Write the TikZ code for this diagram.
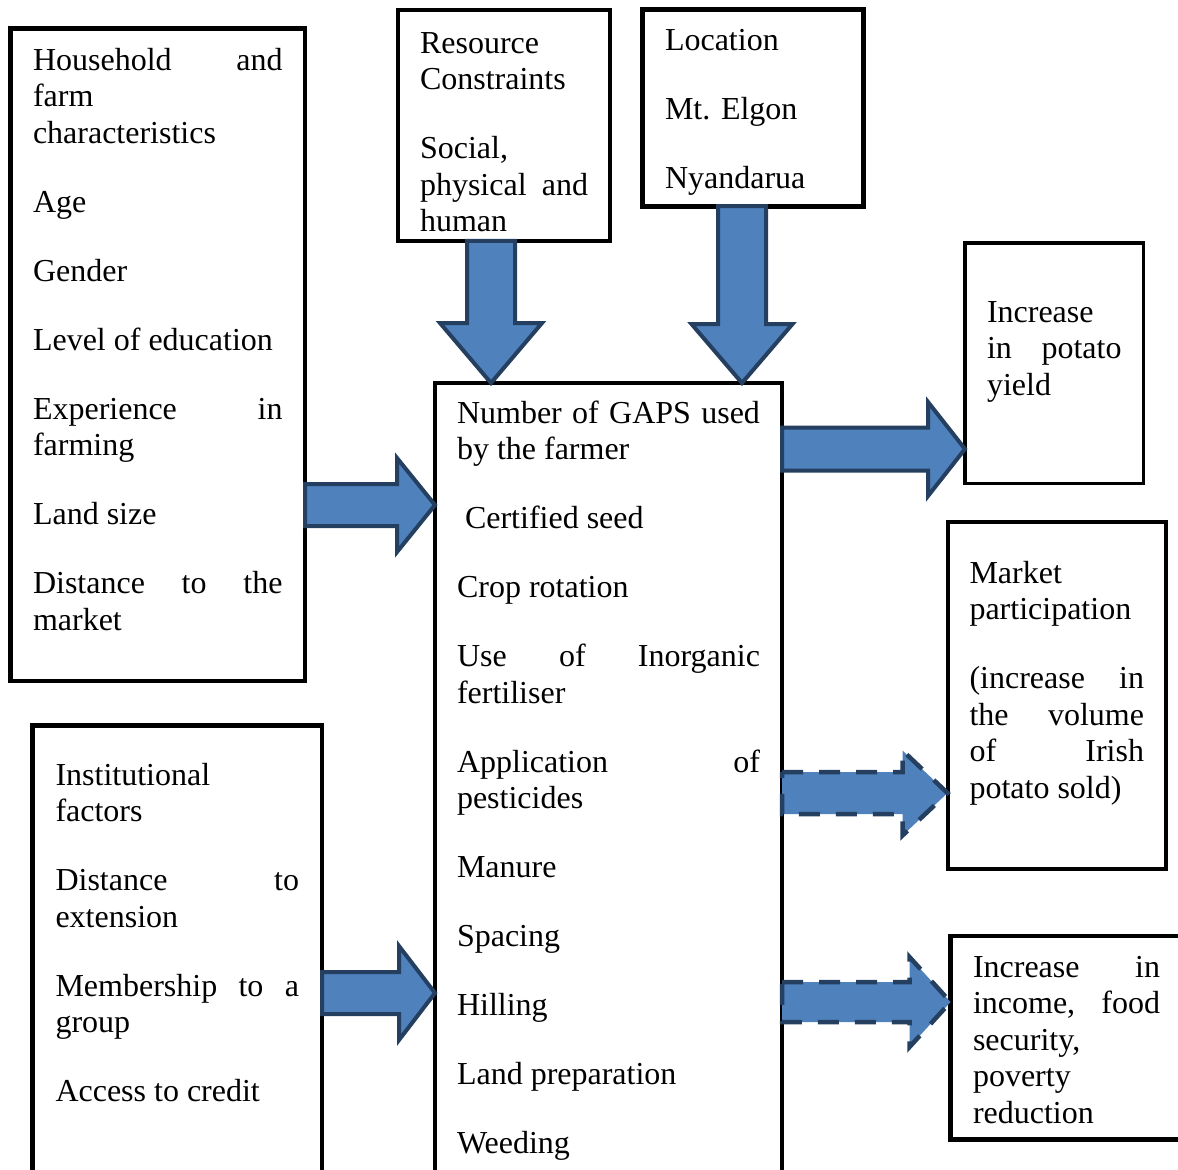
\documentclass[tikz,border=0pt]{standalone}
\usepackage{fontspec}
\setmainfont{Liberation Serif}
\usetikzlibrary{calc}
\definecolor{ArrowFill}{HTML}{4F81BD}
\definecolor{ArrowLine}{HTML}{243F60}

\newcommand{\skipline}{\\[16.25pt]}
\newcommand{\boxtext}[3]{\parbox[t][#2][t]{#1}{\strut #3}}
% block arrows: [style]{tail}{tip}{shaft half}{head half}{head length}
\newcommand{\harrow}[6][flow]{\draw[#1] let \p1=#2, \p2=#3 in
  (\x1,\y2+#4) -- (\x2-#6,\y2+#4) -- (\x2-#6,\y2+#5) -- (\x2,\y2) --
  (\x2-#6,\y2-#5) -- (\x2-#6,\y2-#4) -- (\x1,\y2-#4) -- cycle;}
\newcommand{\varrow}[6][flow]{\draw[#1] let \p1=#2, \p2=#3 in
  (\x2+#4,\y1) -- (\x2+#4,\y2+#6) -- (\x2+#5,\y2+#6) -- (\x2,\y2) --
  (\x2-#5,\y2+#6) -- (\x2-#4,\y2+#6) -- (\x2-#4,\y1) -- cycle;}

\begin{document}
\begin{tikzpicture}[x=0.5pt, y=-0.5pt,
  box/.style={draw, line width=2pt, inner sep=0pt, outer sep=0pt, anchor=north west,
    font=\fontsize{16}{18.25}\selectfont},
  flow/.style={fill=ArrowFill, draw=ArrowLine, line width=2pt},
  flowdash/.style={flow, line width=2.25pt, dash pattern=on 10.5pt off 8pt}
]
\useasboundingbox (0,0) rectangle (1178,1169);
\clip (0,0) rectangle (1178,1169);

% factor boxes
\node[box, line width=2.25pt, inner xsep=11.25pt, inner ysep=8pt] (hh) at (10.5,28.5)
  {\boxtext{124.75pt}{310.25pt}{Household \hfill and\\ farm\\ characteristics\skipline
   Age\skipline Gender\skipline Level of education\skipline
   Experience \hfill in\\ farming\skipline Land size\skipline
   Distance \hfill to \hfill the\\ market}};
\node[box, line width=2.25pt, inner xsep=11.5pt, inner ysep=17pt] (inst) at (32.5,725.5)
  {\boxtext{121.75pt}{203.25pt}{Institutional\\ factors\skipline
   Distance \hfill to\\ extension\skipline
   Membership \hfill to \hfill a\\ group\skipline Access to credit}};
\node[box, line width=1.75pt, inner xsep=11pt, inner ysep=8.725pt] (res) at (398,10)
  {\boxtext{84pt}{98pt}{Resource\\ Constraints\skipline
   Social,\\ physical \hfill and\\ human}};
\node[box, line width=2.5pt, inner xsep=11.5pt, inner ysep=7.5pt] (loc) at (642,9.5)
  {\boxtext{87.5pt}{83.25pt}{Location\skipline Mt. Elgon\skipline Nyandarua}};

% practices
\node[box, line width=1.75pt, inner xsep=11pt, inner ysep=7.225pt] (gaps) at (435,383)
  {\boxtext{151.5pt}{394pt}{Number \hfill of \hfill GAPS \hfill used\\ by the farmer\skipline
   \hspace*{4pt}Certified seed\skipline Crop rotation\skipline
   Use \hfill of \hfill Inorganic\\ fertiliser\skipline
   Application \hfill of\\ pesticides\skipline Manure\skipline Spacing\skipline
   Hilling\skipline Land preparation\skipline Weeding}};

% outcomes
\node[box, line width=1.75pt, inner xsep=11pt, inner ysep=26.725pt] (yield) at (965,243)
  {\boxtext{67.25pt}{66.8pt}{Increase\\ in \hfill potato\\ yield}};
\node[box, inner xsep=11pt, inner ysep=18pt] (market) at (947.5,521.5)
  {\boxtext{87.25pt}{137.75pt}{Market\\ participation\skipline
   (increase \hfill in\\ the \hfill volume\\ of \hfill Irish\\ potato sold)}};
\node[box, line width=2.25pt, inner xsep=11.25pt, inner ysep=7.725pt] (income) at (950.5,936)
  {\boxtext{93.5pt}{86.3pt}{Increase \hfill in\\ income, \hfill food\\ security,\\ poverty\\ reduction}};

% arrows
\harrow{(hh.east |- 0,505)}{(gaps.west |- 0,505)}{10.5pt}{23.5pt}{19pt}
\harrow{(inst.east |- 0,993)}{(gaps.west |- 0,993)}{10.5pt}{23.5pt}{18pt}
\varrow{(res.south -| 491,0)}{(gaps.north -| 491,0)}{12pt}{25.5pt}{30pt}
\varrow{(loc.south -| 742,0)}{(gaps.north -| 742,0)}{12pt}{25.25pt}{29.5pt}
\harrow{(gaps.east |- 0,449)}{(yield.west |- 0,449)}{10.75pt}{23.5pt}{18.5pt}
\harrow[flowdash]{(gaps.east |- 0,793)}{(market.west |- 0,793)}{10.5pt}{21.25pt}{22.5pt}
\harrow[flowdash]{(gaps.east |- 0,1002)}{(income.west |- 0,1002)}{10pt}{22.5pt}{20.5pt}
\end{tikzpicture}
\end{document}
